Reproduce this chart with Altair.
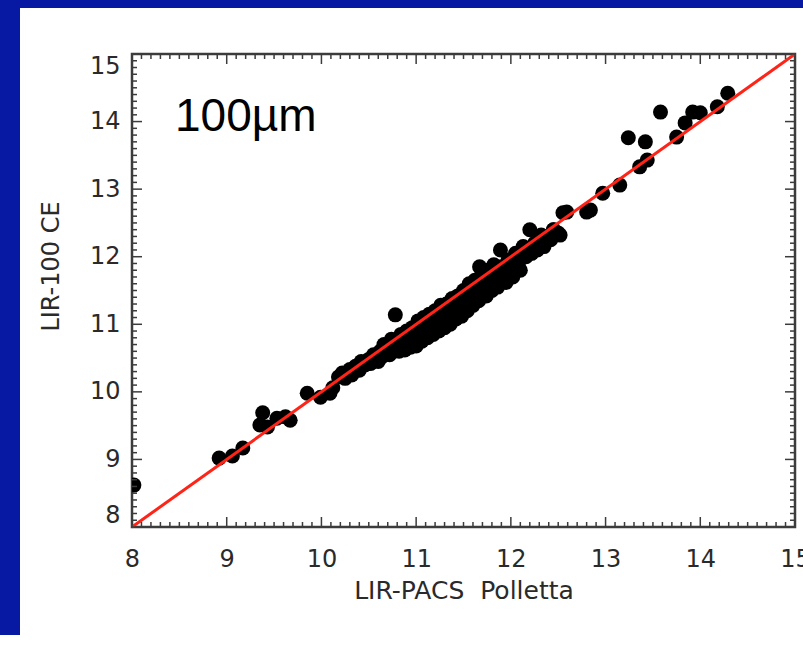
import altair as alt
import pandas as pd

# ---- data ----
PX = [8.02, 8.92, 9.06, 9.17,
      9.35, 9.38, 9.43, 9.53, 9.62, 9.67,
      9.85, 9.99, 10.09, 10.12,
      10.18, 10.22, 10.25, 10.3, 10.32, 10.36, 10.4, 10.42, 10.46, 10.5, 10.52, 10.55, 10.58, 10.6,
      10.62, 10.64, 10.66, 10.68, 10.7, 10.72, 10.74, 10.76, 10.78, 10.8, 10.82, 10.84, 10.86, 10.88,
      10.9, 10.92, 10.94, 10.96, 10.98, 11.0,
      11.02, 11.04, 11.06, 11.08, 11.1, 11.12, 11.14, 11.16, 11.18, 11.2, 11.22, 11.24, 11.26, 11.28,
      11.3, 11.32, 11.34, 11.36, 11.38, 11.4, 11.42, 11.44, 11.46, 11.48, 11.5, 11.52, 11.54,
      11.56, 11.58, 11.6, 11.62, 11.64, 11.66, 11.67, 11.7, 11.72, 11.74, 11.76, 11.78, 11.8, 11.82,
      11.84, 11.86, 11.89, 11.9, 11.92, 11.95, 11.97, 12.0,
      12.02, 12.05, 12.08, 12.1, 12.13, 12.16, 12.2, 12.22, 12.25, 12.28, 12.32, 12.35, 12.38, 12.42,
      12.45, 12.5, 12.52, 12.55, 12.45, 12.59, 12.8, 12.84, 12.97, 13.15, 13.36, 13.44, 13.24, 13.42,
      13.58, 13.75, 13.84, 13.92, 14.0, 14.18, 14.29]
PY = [8.62, 9.02, 9.05, 9.17,
      9.51, 9.69, 9.48, 9.61, 9.63, 9.58,
      9.98, 9.92, 9.98, 10.06,
      10.22, 10.28, 10.2, 10.33, 10.25, 10.38, 10.32, 10.45, 10.4, 10.48, 10.42, 10.55, 10.5, 10.45,
      10.6, 10.52, 10.7, 10.58, 10.65, 10.55, 10.78, 10.62, 11.14, 10.72, 10.6, 10.85, 10.7, 10.62,
      10.9, 10.75, 10.66, 10.95, 10.8, 10.68,
      11.05, 10.9, 10.75, 11.1, 10.95, 10.8, 11.15, 11.0, 10.85, 11.2, 11.05, 10.9, 11.28, 11.1,
      10.95, 11.3, 11.15, 11.0, 11.38, 11.2, 11.08, 11.42, 11.28, 11.12, 11.5, 11.3, 11.2,
      11.6, 11.42, 11.28, 11.65, 11.5, 11.35, 11.85, 11.7, 11.52, 11.42, 11.8, 11.62, 11.5, 11.88,
      11.7, 11.55, 12.1, 11.85, 11.68, 11.62, 11.95, 11.8,
      11.7, 12.05, 11.9, 11.8, 12.15, 12.0, 12.4, 12.05, 12.2, 12.1, 12.32, 12.15, 12.3, 12.25,
      12.4, 12.35, 12.32, 12.65, 12.4, 12.66, 12.66, 12.69, 12.94, 13.06, 13.33, 13.43, 13.76, 13.70,
      14.14, 13.77, 13.98, 14.14, 14.13, 14.22, 14.42]

DIAG = [8, 15]
MAJOR_TICKS = [8, 9, 10, 11, 12, 13, 14, 15]
MINOR_TICKS = [round(8 + 0.1 * i, 1) for i in range(71) if i % 10 != 0]

LABEL_TEXT = ["100µm"]
LABEL_X = [8.454]
LABEL_Y = [13.86]

X_TITLE = "LIR-PACS\u00a0\u00a0Polletta"
Y_TITLE = "LIR-100 CE"

# ---- layout ----
W, H = 663, 473
PAD = {"left": 132, "top": 54, "right": 8, "bottom": 121}
BLUE = "#0719A2"
AXC = "#3c3c3c"
TXT = "#2a2a2a"
FONT = "DejaVu Sans"

xs = alt.Scale(domain=[8, 15], nice=False, zero=False)
ys = alt.Scale(domain=[8, 15], nice=False, zero=False)

pts = pd.DataFrame({"x": PX, "y": PY})
diag = pd.DataFrame({"x": DIAG, "y": DIAG})
maj = pd.DataFrame({"x": MAJOR_TICKS, "y": MAJOR_TICKS})
mino = pd.DataFrame({"x": MINOR_TICKS, "y": MINOR_TICKS})
lab = pd.DataFrame({"x": LABEL_X, "y": LABEL_Y, "t": LABEL_TEXT})
one = pd.DataFrame({"k": [0]})

# decorative blue border (top strip and left strip of the slide)
top_strip = alt.Chart(one).mark_rect(color=BLUE).encode(
    x=alt.value(-PAD["left"]), x2=alt.value(W + PAD["right"]),
    y=alt.value(-PAD["top"]), y2=alt.value(-PAD["top"] + 8))
left_strip = alt.Chart(one).mark_rect(color=BLUE).encode(
    x=alt.value(-PAD["left"]), x2=alt.value(-PAD["left"] + 20),
    y=alt.value(-PAD["top"]), y2=alt.value(H + PAD["bottom"] - 13))

points = alt.Chart(pts).mark_circle(size=225, color="black", opacity=1, clip=True).encode(
    x=alt.X("x:Q", scale=xs, title=X_TITLE,
            axis=alt.Axis(values=MAJOR_TICKS, format="d", ticks=False, tickSize=0, domain=False,
                          grid=False, labelFlush=False, labelFont=FONT, labelFontSize=24,
                          labelColor=TXT, labelPadding=20,
                          titleFont=FONT, titleFontSize=25, titleFontWeight="normal",
                          titleColor=TXT, titlePadding=7)),
    y=alt.Y("y:Q", scale=ys, title=Y_TITLE,
            axis=alt.Axis(values=MAJOR_TICKS, format="d", ticks=False, tickSize=0, domain=False,
                          grid=False, labelFlush=True, labelFont=FONT, labelFontSize=24,
                          labelColor=TXT, labelPadding=12,
                          titleFont=FONT, titleFontSize=24, titleFontWeight="normal",
                          titleColor=TXT, titlePadding=26, titleY=212)),
)

line = alt.Chart(diag).mark_line(color="#ff2418", strokeWidth=3).encode(
    x=alt.X("x:Q", scale=xs), y=alt.Y("y:Q", scale=ys))


def xticks(df, length):
    b = alt.Chart(df).mark_rule(color=AXC, strokeWidth=1.5).encode(
        x=alt.X("x:Q", scale=xs), y=alt.value(H), y2=alt.value(H - length))
    t = alt.Chart(df).mark_rule(color=AXC, strokeWidth=1.5).encode(
        x=alt.X("x:Q", scale=xs), y=alt.value(0), y2=alt.value(length))
    return [b, t]


def yticks(df, length):
    l = alt.Chart(df).mark_rule(color=AXC, strokeWidth=1.5).encode(
        y=alt.Y("y:Q", scale=ys), x=alt.value(0), x2=alt.value(length))
    r = alt.Chart(df).mark_rule(color=AXC, strokeWidth=1.5).encode(
        y=alt.Y("y:Q", scale=ys), x=alt.value(W), x2=alt.value(W - length))
    return [l, r]


ticks = xticks(maj, 10) + xticks(mino, 5) + yticks(maj, 10) + yticks(mino, 5)

label = alt.Chart(lab).mark_text(font="Liberation Sans", fontSize=46, color="black",
                                 align="left", baseline="alphabetic").encode(
    x=alt.X("x:Q", scale=xs), y=alt.Y("y:Q", scale=ys), text="t:N")

chart = alt.layer(top_strip, left_strip, points, line, *ticks, label).properties(
    width=W, height=H,
    autosize=alt.AutoSizeParams(type="none"),
    padding=PAD,
    background="white",
).configure_view(stroke=AXC, strokeWidth=2.5)

chart.save("out.html", embed_options={"renderer": "svg", "actions": False})
